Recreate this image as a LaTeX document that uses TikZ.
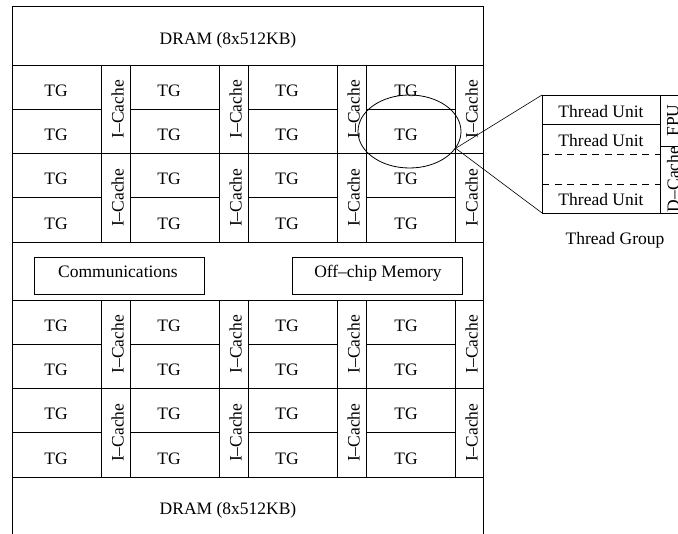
\documentclass[tikz,border=0pt]{standalone}
\usepackage{fontspec}
\setmainfont{Liberation Serif}
\usetikzlibrary{shapes.geometric}
\begin{document}
\begin{tikzpicture}[x=1pt,y=-1pt,line width=0.6pt,
  lbl/.style={font=\fontsize{17.5}{21}\selectfont, inner sep=0pt, anchor=base},
  vlbl/.style={lbl, rotate=90},
  dashline/.style={dash pattern=on 7pt off 5.5pt}]
\clip (0,0) rectangle (678,534);
% outer frame
\draw (12,534) -- (12,6) -- (483,6) -- (483,534);
\draw (12,65) -- (483,65);
\draw (12,242) -- (483,242);
\draw (12,300) -- (483,300);
\draw (12,477) -- (483,477);
\node[lbl] (dramtop) at (228,45) {DRAM (8x512KB)};
\node[lbl] (drambot) at (228,515) {DRAM (8x512KB)};
% two blocks of thread groups
\foreach \blk/\y in {top/65, bot/300} {
  \draw (12,\y+88.5) -- (483,\y+88.5);
  \foreach \i/\tx in {0/56,1/169,2/287,3/406} {
    \pgfmathsetmacro{\xo}{12+118*\i}
    \draw (\xo,\y+44.25) -- (\xo+89,\y+44.25);
    \draw (\xo,\y+132.75) -- (\xo+89,\y+132.75);
    \draw (\xo+89,\y) -- (\xo+89,\y+177);
    \ifnum\i<3 \draw (\xo+118,\y) -- (\xo+118,\y+177); \fi
    \foreach \r in {0,...,3} {
      \node[lbl] (tg-\blk-\i-\r) at (\tx,\y+44.25*\r+31.5) {TG};
    }
    \foreach \k in {0,1} {
      \node[vlbl] (ic-\blk-\i-\k) at (\xo+111.5,\y+44.25+88.5*\k) {I–Cache};
    }
  }
}
% middle section
\draw (34,257) rectangle (204,294);
\node[lbl] (comm) at (118,278) {Communications};
\draw (292,257) rectangle (462,294);
\node[lbl] (offchip) at (378,278) {Off–chip Memory};
% magnifier ellipse
\node[draw, ellipse, minimum width=103, minimum height=73, inner sep=0pt, line width=0.8pt] (zoom) at (409.5,131.5) {};
% thread group detail
\coordinate (tgnw) at (542,95);
\coordinate (tgsw) at (542,213);
\draw (700,95) -- (tgnw) -- (tgsw) -- (700,213);
\draw (542,124) -- (660,124);
\draw[dashline] (542,154) -- (660,154);
\draw[dashline] (542,184) -- (660,184);
\draw (660,95) -- (660,213);
\draw (660,146) -- (700,146);
\node[lbl] (tu1) at (601,117.3) {Thread Unit};
\node[lbl] (tu2) at (601,147) {Thread Unit};
\node[lbl] (tu3) at (601,205.7) {Thread Unit};
\node[vlbl] (fpu) at (678.5,120.5) {FPU};
\node[vlbl] (dcache) at (679,179.5) {D–Cache};
\node[lbl] (tgcap) at (615,245) {Thread Group};
% connectors
\draw (zoom.-20) -- (tgnw);
\draw (zoom.-20) -- (tgsw);
\end{tikzpicture}
\end{document}
